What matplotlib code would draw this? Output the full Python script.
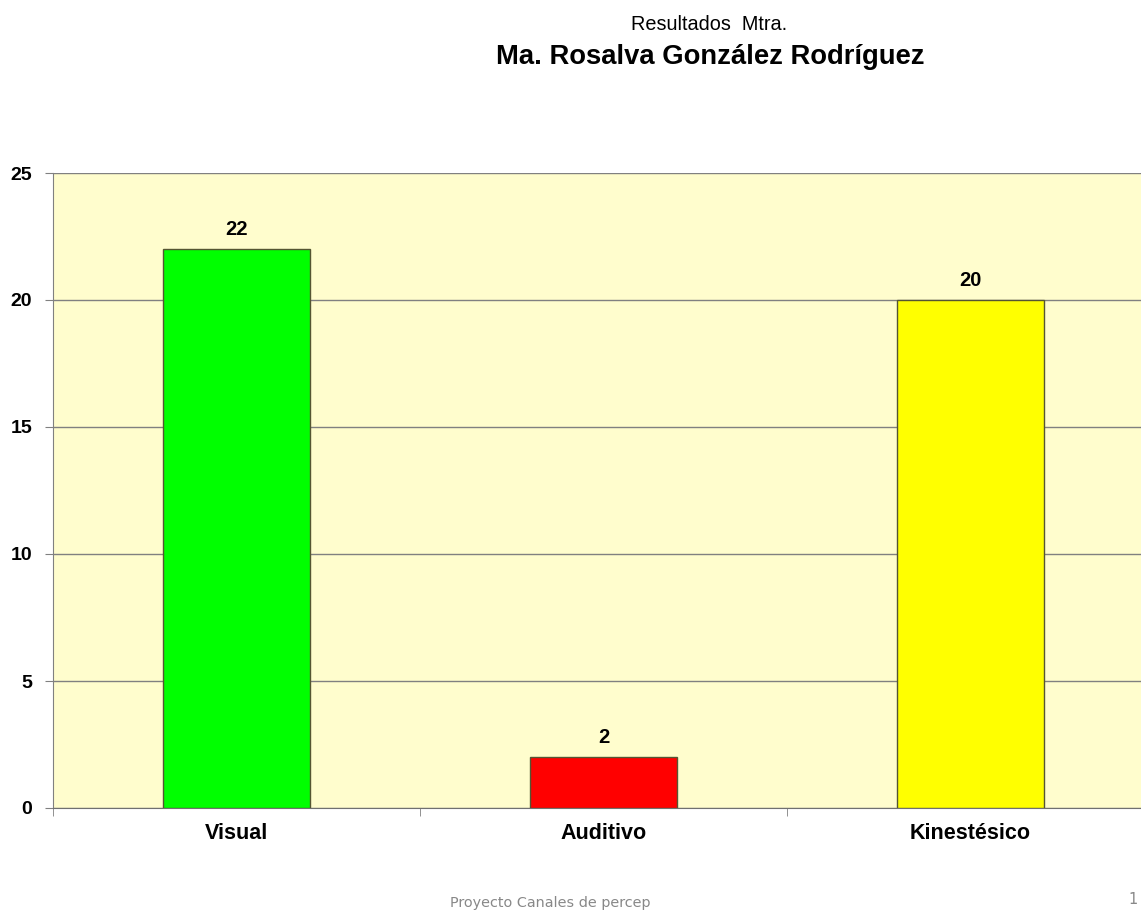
import matplotlib
matplotlib.use("Agg")
import matplotlib.pyplot as plt

categories = ["Visual", "Auditivo", "Kinestésico"]
values = [22, 2, 20]
colors = ["#00FF00", "#FF0000", "#FFFF00"]
yticks = [0, 5, 10, 15, 20, 25]

plt.rcParams['font.family'] = ['Liberation Sans', 'DejaVu Sans']

fig = plt.figure(figsize=(11.41, 9.11), dpi=100)
ax = fig.add_axes([53/1141, 103/911, 1101/1141, 635/911])
ax.set_facecolor("#FFFDCD")

x = list(range(len(categories)))
bars = ax.bar(x, values, width=0.4, color=colors, edgecolor="#555533", linewidth=1.0, zorder=3)
for xi, v in zip(x, values):
    ax.text(xi, v + 0.4, str(v), ha="center", va="bottom", fontsize=14.5, fontweight="bold", zorder=4)

ax.set_xlim(-0.5, 2.5)
ax.set_ylim(0, 25)
ax.set_yticks(yticks)
ax.set_yticklabels([str(t) for t in yticks], fontsize=14, fontweight="bold")
ax.set_xticks(x)
ax.set_xticklabels(categories, fontsize=15.5, fontweight="bold")
ax.set_xticks([-0.5, 0.5, 1.5, 2.5], minor=True)
ax.tick_params(axis="x", which="major", length=0, pad=11)
ax.tick_params(axis="x", which="minor", length=6, color="#808080", direction="out")
ax.tick_params(axis="y", length=6, color="#808080", pad=9)
ax.yaxis.grid(True, color="#808080", linewidth=1.0, zorder=1)
ax.set_axisbelow(True)
for s in ["top", "right"]:
    ax.spines[s].set_visible(False)
ax.spines["left"].set_color("#808080")
ax.spines["bottom"].set_color("#707070")

fig.text(709/1141, 1 - 25/911, "Resultados  Mtra.", ha="center", va="center", fontsize=14.3)
fig.text(710/1141, 1 - 57/911, "Ma. Rosalva González Rodríguez", ha="center", va="center", fontsize=19.7, fontweight="bold")
fig.text(550/1141, 1 - 903/911, "Proyecto Canales de percep", ha="center", va="center", fontsize=10.4, color="#888888", family=["DejaVu Sans"])
fig.text(1133/1141, 1 - 900/911, "1", ha="center", va="center", fontsize=10.5, color="#888888", family=["DejaVu Sans"])

fig.savefig("out.png", dpi=100)
